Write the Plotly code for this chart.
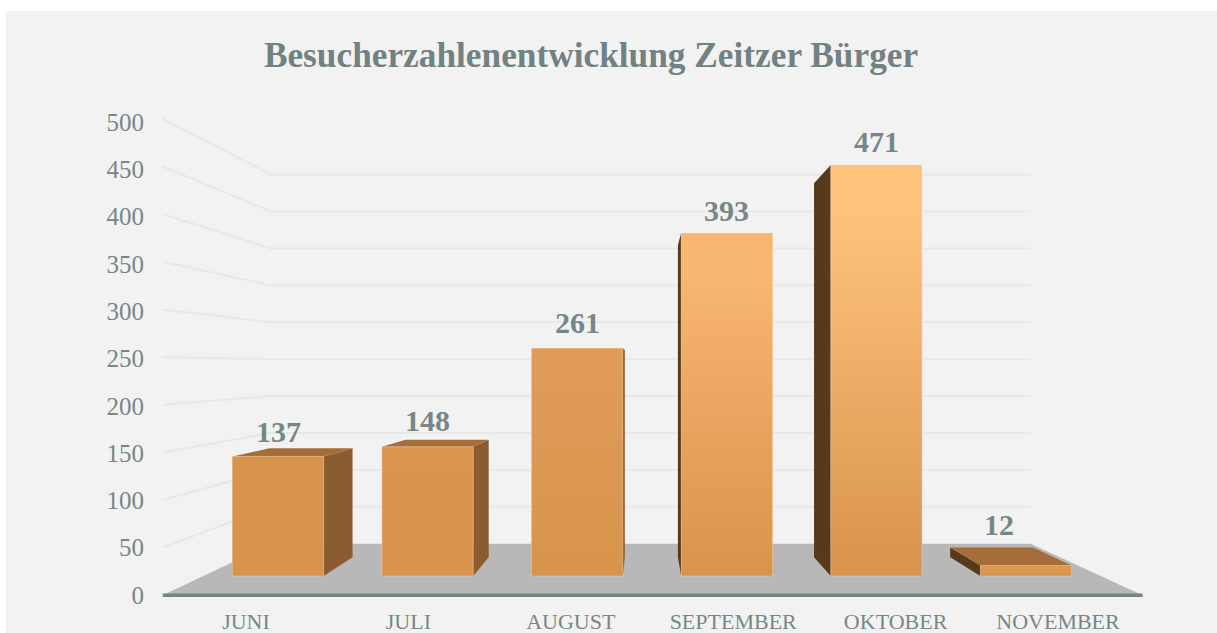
import plotly.graph_objects as go

categories = ["JUNI", "JULI", "AUGUST", "SEPTEMBER", "OKTOBER", "NOVEMBER"]
values = [137, 148, 261, 393, 471, 12]
top_colors = ["#d8934c", "#d9944d", "#e09c57", "#f9b671", "#ffc27c", "#dc9750"]
y_ticks = [0, 50, 100, 150, 200, 250, 300, 350, 400, 450, 500]

W, H = 1217, 633
TEXT = "#778787"
FONT = "Liberation Serif"

# pixel scale of the bar plane
PX_I0, PX_DI = 278, 149.6
PX_V0, PX_DV = 576, 0.8726
x_range = [-PX_I0 / PX_DI, (W - PX_I0) / PX_DI]
y_range = [-(H - PX_V0) / PX_DV, PX_V0 / PX_DV]

# perspective: vanishing point in data units, depths relative to the bar plane
VP_I, VP_V = 2.453, 240
D_BACK, D_OUTER, D_WALL = 0.09, -0.0917, 0.154
BAR_W = 0.61
idx = list(range(len(categories)))


def P(i, v, d):
    return i + d * (VP_I - i), v + d * (VP_V - v)


def polys(rings):
    xs, ys = [], []
    for ring in rings:
        for i, v, d in ring + ring[:1]:
            a, b = P(i, v, d)
            xs.append(a)
            ys.append(b)
        xs.append(None)
        ys.append(None)
    return xs, ys


fig = go.Figure()

# floor
fx, fy = polys([[(-0.5, 0, D_OUTER), (5.5, 0, D_OUTER), (5.5, 0, D_WALL), (-0.5, 0, D_WALL)]])
fig.add_trace(go.Scatter(x=fx, y=fy, xaxis="x", yaxis="y", mode="lines", fill="toself",
                         fillcolor="#b8b8b8", line=dict(width=0), hoverinfo="skip"))
# wall grid lines
gx, gy = [], []
for t in y_ticks[1:]:
    for i, d in [(-0.5, D_OUTER), (-0.5, D_WALL), (5.5, D_WALL)]:
        a, b = P(i, t, d)
        gx.append(a)
        gy.append(b)
    gx.append(None)
    gy.append(None)
fig.add_trace(go.Scatter(x=gx, y=gy, xaxis="x", yaxis="y", mode="lines",
                         line=dict(color="#e5e9e8", width=2), hoverinfo="skip"))

# bars (front faces)
fig.add_trace(go.Bar(x=idx, y=values, width=BAR_W, xaxis="x", yaxis="y2",
                     marker=dict(color="#d8934c", line=dict(width=0)),
                     hovertext=categories, hoverinfo="text+y"))

# side and top faces
right, left, top = [], [], []
for i, v in zip(idx, values):
    a, b = i - BAR_W / 2, i + BAR_W / 2
    if b < VP_I:
        right.append([(b, 0, 0), (b, v, 0), (b, v, D_BACK), (b, 0, D_BACK)])
    if a > VP_I:
        left.append([(a, 0, 0), (a, v, 0), (a, v, D_BACK), (a, 0, D_BACK)])
    if v < VP_V:
        top.append([(a, v, 0), (b, v, 0), (b, v, D_BACK), (a, v, D_BACK)])
for rings, col in [(right, "#8a5c2f"), (left, "#57391b"), (top, "#a56e39")]:
    px, py = polys(rings)
    fig.add_trace(go.Scatter(x=px, y=py, xaxis="x", yaxis="y2", mode="lines", fill="toself",
                             fillcolor=col, line=dict(width=0), hoverinfo="skip"))

# gradient over each front face, running from the floor to the top of that bar
for i, v, col in zip(idx, values, top_colors):
    px, py = polys([[(i - BAR_W / 2, 0, 0), (i + BAR_W / 2, 0, 0), (i + BAR_W / 2, v, 0), (i - BAR_W / 2, v, 0)]])
    fig.add_trace(go.Scatter(
        x=px, y=py, xaxis="x", yaxis="y2", mode="lines", fill="toself",
        line=dict(width=1, color="rgba(255,226,196,0.35)"), hoverinfo="skip",
        fillgradient=dict(type="vertical", start=0, stop=v,
                          colorscale=[[0, "#d8934c"], [0.88, col], [1, col]])))

# front edge of the floor
ax, ay = polys([[(-0.5, 0, D_OUTER), (5.5, 0, D_OUTER)]])
fig.add_trace(go.Scatter(x=ax[:2], y=ay[:2], xaxis="x", yaxis="y2", mode="lines",
                         line=dict(color="#748484", width=3.5), hoverinfo="skip"))

# carrier of the visible axes
fig.add_trace(go.Scatter(x=categories, y=values, xaxis="x3", yaxis="y3", mode="markers",
                         marker=dict(opacity=0, size=1), hoverinfo="skip"))

shift_x = [0, 0, 0, 0, 0, -27]
shift_y = [25, 26, 26, 23, 24, 41]
for i, v, sx, sy in zip(idx, values, shift_x, shift_y):
    fig.add_annotation(x=i, y=v, xref="x", yref="y2", text=str(v), showarrow=False,
                       xanchor="center", yanchor="middle", xshift=sx, yshift=sy,
                       font=dict(family=FONT, size=30, color=TEXT, weight="bold"))

fig.update_layout(
    width=W, height=H, autosize=False, margin=dict(l=0, r=0, t=0, b=0),
    paper_bgcolor="white", plot_bgcolor="rgba(0,0,0,0)", showlegend=False, hovermode="closest",
    title=dict(text="Besucherzahlenentwicklung Zeitzer Bürger",
               x=591 / W, y=1 - 55 / H, xref="paper", yref="container",
               xanchor="center", yanchor="middle",
               font=dict(family=FONT, size=35.3, color="#728282", weight="bold")),
    xaxis=dict(range=x_range, visible=False, domain=[0, 1]),
    yaxis=dict(range=y_range, visible=False, domain=[0, 1]),
    yaxis2=dict(range=y_range, visible=False, overlaying="y", domain=[0, 1]),
    xaxis3=dict(type="category", categoryorder="array", categoryarray=categories,
                range=[-246 / 162.4, (W - 246) / 162.4], overlaying="x",
                anchor="free", position=(H - 595) / H, side="bottom",
                showgrid=False, zeroline=False, showline=False, ticks="", ticklabelstandoff=11,
                tickfont=dict(family=FONT, size=22, color=TEXT)),
    yaxis3=dict(range=[-(H - 595) / 0.946, 595 / 0.946], overlaying="y",
                anchor="free", position=150 / W, side="left",
                tickmode="array", tickvals=y_ticks, showgrid=False, zeroline=False,
                showline=False, ticks="", ticklabelstandoff=6,
                tickfont=dict(family=FONT, size=25, color=TEXT)),
    shapes=[dict(type="rect", xref="paper", yref="paper", x0=6 / W, x1=1, y0=0, y1=1 - 11 / H,
                 fillcolor="#f2f2f2", line=dict(width=0), layer="below")],
)

fig.write_html("out.html", config=dict(displayModeBar=False),
               post_script="document.body.style.margin='0';")
